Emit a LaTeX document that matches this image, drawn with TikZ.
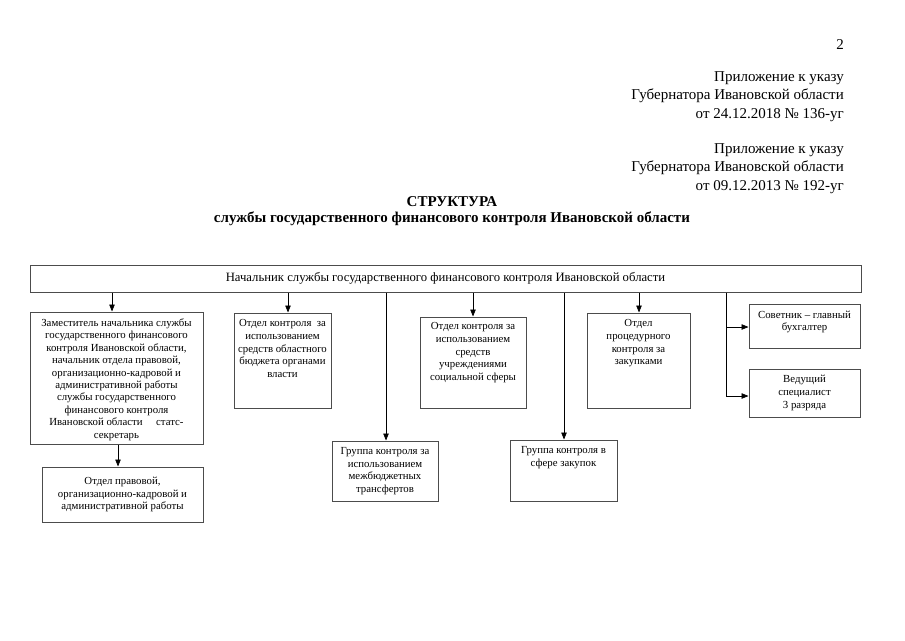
\documentclass[tikz,border=0pt]{standalone}
\usepackage{fontspec}
\setmainfont{Liberation Serif}
\usetikzlibrary{positioning,arrows.meta}

\tikzset{
  unit/.style={draw=black!70, line width=1pt, inner sep=0pt},
  txt/.style={align=center, font=\fontsize{10.8}{12.6}\selectfont, inner sep=0pt},
  arr/.style={-{Triangle[length=7pt,width=5.5pt]}, line width=0.7pt},
  big/.style={font=\fontsize{15}{18.5}\selectfont, inner sep=0pt},
}

\begin{document}
\begin{tikzpicture}[x=1pt,y=-1pt]
    \useasboundingbox (0,0) rectangle (905,640);

    % Header
    \node[big, anchor=east] (page) at (844,45) {2};
    \node[big, anchor=north east, align=right] (order1) at (844,71)
        {Приложение к указу\\Губернатора Ивановской области\\от 24.12.2018 № 136-уг};
    \node[big, anchor=north east, align=right] (order2) at (844,143)
        {Приложение к указу\\Губернатора Ивановской области\\от 09.12.2013 № 192-уг};

    % Title
    \node[big, font=\bfseries\fontsize{15}{18}\selectfont] (title) at (452,202) {СТРУКТУРА};
    \node[big, font=\bfseries\fontsize{15}{18}\selectfont] (subtitle) at (452,218.5)
        {службы государственного финансового контроля Ивановской области};

    % Head of the service
    \node[unit, minimum width=831, minimum height=27, font=\fontsize{12.7}{14}\selectfont] (head) at (445.5,278.5)
        {Начальник службы государственного финансового контроля Ивановской области};

    % Deputy and his department
    \node[unit, minimum width=173, minimum height=132] (deputy) at (116.5,378) {};
    \node[txt, anchor=north, font=\fontsize{10.8}{12.4}\selectfont] at ([yshift=-7pt]deputy.north)
        {Заместитель начальника службы\\государственного финансового\\контроля Ивановской области,\\начальник отдела правовой,\\организационно-кадровой и\\административной работы\\службы государственного\\финансового контроля\\Ивановской области\quad\ статс-\\секретарь};
    \node[unit, txt, minimum width=161, minimum height=55] (legal) at (122.5,494.5)
        {Отдел правовой,\\организационно-кадровой и\\административной работы};

    % Departments
    \node[unit, minimum width=97, minimum height=95] (budget) at (282.5,360.5) {};
    \node[txt, anchor=north] at ([yshift=-7pt]budget.north)
        {Отдел контроля\ \ за\\использованием\\средств областного\\бюджета органами\\власти};
    \node[unit, minimum width=106, minimum height=91] (social) at (473,362.5) {};
    \node[txt, anchor=north] at ([yshift=-6pt]social.north)
        {Отдел контроля за\\использованием\\средств\\учреждениями\\социальной сферы};
    \node[unit, minimum width=103, minimum height=95] (procure) at (638.5,360.5) {};
    \node[txt, anchor=north] at ([yshift=-7pt]procure.north)
        {Отдел\\процедурного\\контроля за\\закупками};

    % Groups
    \node[unit, minimum width=106, minimum height=60] (transfer) at (385,471) {};
    \node[txt, anchor=north] at ([yshift=-7pt]transfer.north)
        {Группа контроля за\\использованием\\межбюджетных\\трансфертов};
    \node[unit, minimum width=107, minimum height=61] (purchase) at (563.5,470.5) {};
    \node[txt, anchor=north] at ([yshift=-7pt]purchase.north)
        {Группа контроля в\\сфере закупок};

    % Advisor and specialist
    \node[unit, minimum width=111, minimum height=44] (advisor) at (804.5,326) {};
    \node[txt, anchor=north] at ([yshift=-7pt]advisor.north)
        {Советник -- главный\\бухгалтер};
    \node[unit, txt, minimum width=111, minimum height=48] (expert) at (804.5,393)
        {Ведущий\\специалист\\3 разряда};

    % Connectors
    \draw[arr] (head.south -| 112,0) -- (deputy.north -| 112,0);
    \draw[arr] (deputy.south -| 118,0) -- (legal.north -| 118,0);
    \draw[arr] (head.south -| 288,0) -- (budget.north -| 288,0);
    \draw[arr] (head.south -| 386,0) -- (transfer.north -| 386,0);
    \draw[arr] (head.south -| social) -- (social.north);
    \draw[arr] (head.south -| 564,0) -- (purchase.north -| 564,0);
    \draw[arr] (head.south -| 639,0) -- (procure.north -| 639,0);
    \draw[arr] (head.south -| 726,0) |- ([yshift=-1pt]advisor.west);
    \draw[arr] (head.south -| 726,0) |- ([yshift=-3pt]expert.west);
\end{tikzpicture}
\end{document}
